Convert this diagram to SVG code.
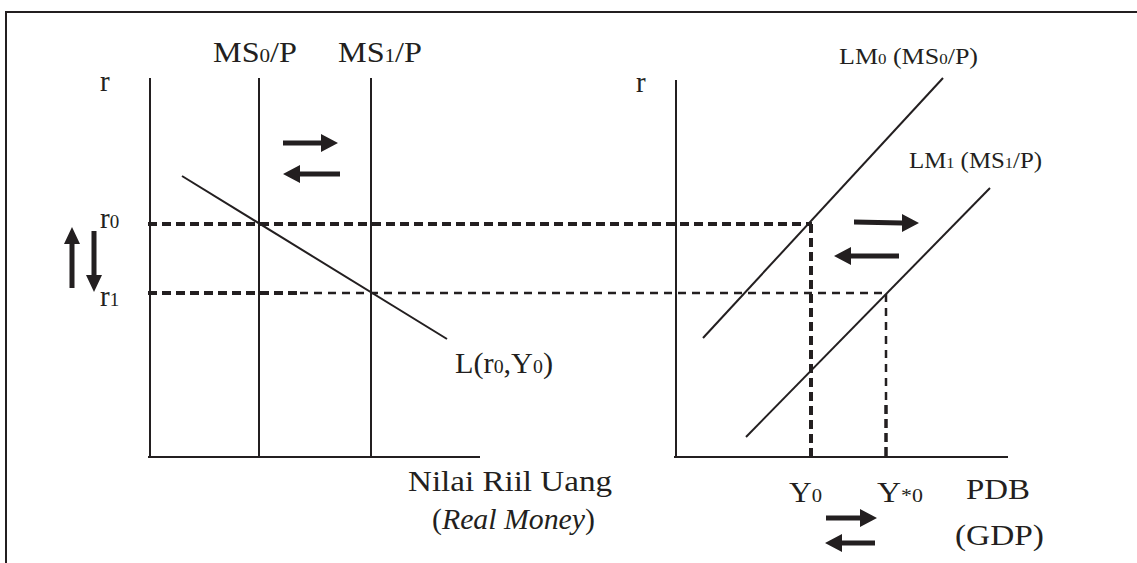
<svg xmlns="http://www.w3.org/2000/svg" width="1137" height="563" viewBox="0 0 1137 563">
<style>
.t{font-family:"Liberation Serif","Times New Roman",serif;fill:#231f20;font-size:29px}
.s{font-size:19px}
.m{font-size:23px}
.ms{font-size:15px}
.ln{stroke:#231f20;stroke-width:2;fill:none}
.dt{stroke:#231f20;stroke-width:4;stroke-dasharray:9 5;fill:none}
.dn{stroke:#231f20;stroke-width:2.5;stroke-dasharray:8 6;fill:none}
.ar{fill:#231f20}
</style>
<rect width="1137" height="563" fill="#fff"/>
<g id="frame"><path class="ln" d="M6,563 V12 H1137"/></g>
<g id="money-market">
<path class="ln" d="M150,78 V457 M148,457 H480"/>
<path class="ln" d="M259,78 V457 M371,78 V457"/>
<path class="ln" d="M182,176 L447,339"/>
<text class="t" x="100" y="91">r</text>
<text class="t" x="213" y="62" textLength="84" lengthAdjust="spacingAndGlyphs">MS<tspan class="s">0</tspan>/P</text>
<text class="t" x="338" y="62" textLength="84" lengthAdjust="spacingAndGlyphs">MS<tspan class="s">1</tspan>/P</text>
<text class="t" x="100" y="228">r<tspan class="s">0</tspan></text>
<text class="t" x="100" y="306">r<tspan class="s">1</tspan></text>
<text class="t" x="455" y="373" textLength="98" lengthAdjust="spacingAndGlyphs">L(r<tspan class="s">0</tspan>,Y<tspan class="s">0</tspan>)</text>
<text class="t" x="408" y="491" textLength="204" lengthAdjust="spacingAndGlyphs">Nilai Riil Uang</text>
<text class="t" x="432" y="529" textLength="163" lengthAdjust="spacingAndGlyphs">(<tspan font-style="italic">Real Money</tspan>)</text>
</g>
<g id="lm-market">
<path class="ln" d="M676,80 V457 M674,457 H1008"/>
<path class="ln" d="M943,78 L703,338"/>
<path class="ln" d="M990,188 L746,437"/>
<text class="t" x="636" y="92">r</text>
<text class="t m" x="839" y="64" textLength="139" lengthAdjust="spacingAndGlyphs">LM<tspan class="ms">0</tspan> (MS<tspan class="ms">0</tspan>/P)</text>
<text class="t m" x="909" y="168" textLength="133" lengthAdjust="spacingAndGlyphs">LM<tspan class="ms">1</tspan> (MS<tspan class="ms">1</tspan>/P)</text>
<text class="t" x="789" y="502" textLength="33" lengthAdjust="spacingAndGlyphs">Y<tspan class="s">0</tspan></text>
<text class="t" x="877" y="502" textLength="46" lengthAdjust="spacingAndGlyphs">Y<tspan class="s">*0</tspan></text>
<text class="t" x="966" y="499" textLength="64" lengthAdjust="spacingAndGlyphs">PDB</text>
<text class="t" x="955" y="545" textLength="89" lengthAdjust="spacingAndGlyphs">(GDP)</text>
</g>
<g id="connectors">
<path class="dt" d="M148,224 H812"/>
<path class="dt" d="M148,293 H300"/>
<path class="dn" d="M300,293 H886"/>
<path class="dt" d="M811,224 V456"/>
<path class="dn" d="M886,294 V405"/>
<path class="dt" d="M886,405 V456" style="stroke-width:3.5"/>
</g>
<g id="arrows">
<path class="ar" d="M283,140.5 H321 V134 L338,143 L321,152 V145.5 H283 Z"/>
<path class="ar" d="M340,171.5 H300 V165 L283,174 L300,183 V176.5 H340 Z"/>
<path class="ar" d="M69.5,288 V244 H64 L72,227 L80,244 H74.5 V288 Z"/>
<path class="ar" d="M91.5,231 V275 H86 L94,292 L102,275 H96.5 V231 Z"/>
<path class="ar" d="M854,219.5 L902,220.5 V214 L919,223 L902,232 V225.5 L854,224.5 Z"/>
<path class="ar" d="M899,253.5 H851 V247 L834,256 L851,265 V258.5 H899 Z"/>
<path class="ar" d="M826,515.5 H860 V509 L877,518 L860,527 V520.5 H826 Z"/>
<path class="ar" d="M875,540.5 H842 V534 L825,543 L842,552 V545.5 H875 Z"/>
</g>
</svg>
